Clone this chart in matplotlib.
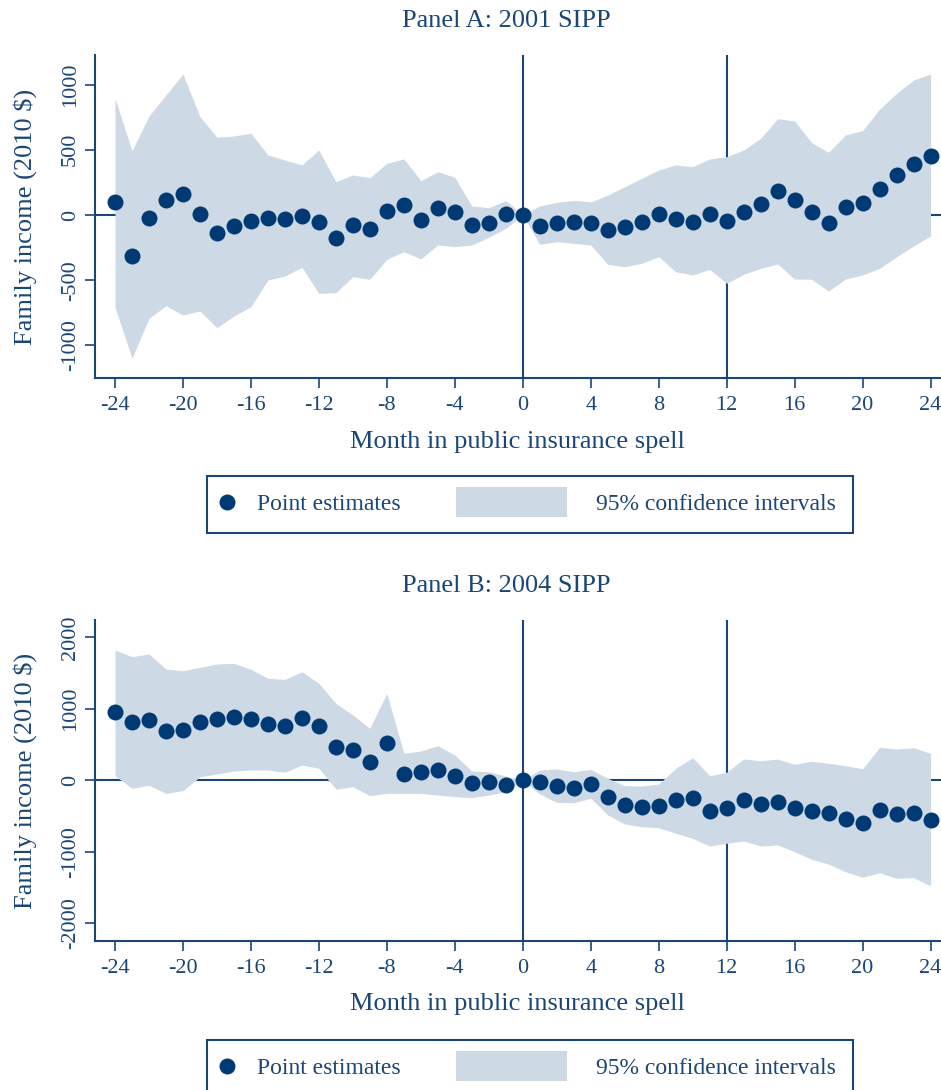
import numpy as np
import matplotlib
matplotlib.use("Agg")
import matplotlib.pyplot as plt
from matplotlib.lines import Line2D
from matplotlib.patches import Patch, Rectangle
from matplotlib.legend_handler import HandlerLine2D, HandlerPatch

plt.rcParams['font.family'] = ['Liberation Serif', 'DejaVu Serif']
plt.rcParams['axes.unicode_minus'] = False

# ---------------- data ----------------
months = list(range(-24, 25))

a_est = [100, -315, -20, 112, 159, 8, -138, -84, -43, -20, -28, -5, -51, -174, -79, -105,
         33, 74, -38, 56, 23, -79, -59, 8,
         0,
         -82, -59, -51, -64, -115, -95, -56, 8, -28, -54, 8, -43, 23, 87, 184, 115, 26,
         -59, 61, 92, 199, 304, 394, 455]
a_hi = [895, 493, 759, 920, 1081, 754, 596, 606, 627, 460, 422, 384, 498, 255, 307, 286,
        397, 430, 263, 332, 289, 69, 56, 110,
        0,
        69, 97, 112, 100, 153, 217, 281, 345, 384, 370, 430, 447, 498, 588, 739, 721, 555,
        481, 614, 647, 811, 933, 1035, 1081]
a_lo = [-708, -1099, -792, -696, -767, -736, -864, -775, -703, -499, -468, -401, -601, -596,
        -473, -493, -340, -281, -337, -230, -243, -230, -171, -102,
        0,
        -225, -205, -217, -230, -378, -396, -370, -320, -435, -460, -417, -524, -455, -409,
        -376, -491, -493, -583, -491, -460, -409, -320, -238, -161]

b_est = [951, 811, 848, 685, 704, 820, 858, 886, 862, 788, 760, 872, 755, 470, 420, 252,
         518, 93, 112, 140, 64, -38, -28, -66,
         0,
         -28, -75, -103, -47, -229, -341, -369, -355, -280, -247, -434, -383, -275, -331,
         -299, -388, -430, -462, -541, -593, -411, -471, -453, -551]
b_hi = [1823, 1730, 1767, 1557, 1533, 1581, 1627, 1637, 1553, 1427, 1413, 1519, 1357, 1077,
        914, 727, 1217, 378, 410, 484, 354, 130, 120, 60,
        0,
        144, 158, 120, 154, 28, -75, -80, -52, 168, 316, 64, 112, 298, 274, 298, 224, 266,
        238, 204, 162, 462, 438, 456, 378]
b_lo = [64, -112, -70, -182, -145, 50, 88, 130, 144, 144, 112, 214, 168, -122, -89, -215,
        -182, -182, -182, -206, -229, -243, -206, -159,
        0,
        -192, -308, -313, -252, -485, -611, -649, -663, -741, -811, -919, -881, -849, -919,
        -905, -999, -1105, -1171, -1279, -1357, -1293, -1371, -1363, -1475]

x_ticks = list(range(-24, 25, 4))
a_yticks = [-1000, -500, 0, 500, 1000]
b_yticks = [-2000, -1000, 0, 1000, 2000]
vlines = [0, 12]

titles = ["Panel A: 2001 SIPP", "Panel B: 2004 SIPP"]
xlabel = "Month in public insurance spell"
ylabel = r"Family income (2010 \$)"
leg_labels = ["Point estimates", "95% confidence intervals"]

# ---------------- style ----------------
NAVY = '#1a4676'
DOT = '#003a75'
BAND = '#cdd9e4'

W, H = 941, 1090
fig = plt.figure(figsize=(W / 100, H / 100), dpi=100)

def fx(px):
    return px / W

def fy(py):
    return 1 - py / H

axA = fig.add_axes([fx(95), fy(378), fx(941 - 95) - 0.0005, (378 - 55) / H])
axB = fig.add_axes([fx(95), fy(941), fx(941 - 95) - 0.0005, (941 - 620) / H])


class NarrowLineHandler(HandlerLine2D):
    def __init__(self, width_pts, **kw):
        super().__init__(**kw)
        self.width_pts = width_pts

    def legend_artist(self, legend, orig_handle, fontsize, handlebox):
        handlebox.width = self.width_pts
        return super().legend_artist(legend, orig_handle, fontsize, handlebox)


def band_patch(legend, orig_handle, xdescent, ydescent, width, height, fontsize):
    h = 21.5  # points
    c = (height - ydescent) / 2
    return Rectangle((-xdescent, c - h / 2), width, h)


def draw_panel(ax, est, lo, hi, yticks, ylim, title, title_y, leg_top):
    ax.axhline(0, color=NAVY, lw=1.5, zorder=1)
    for v in vlines:
        ax.axvline(v, color=NAVY, lw=1.5, zorder=1)
    ax.fill_between(months, lo, hi, color=BAND, lw=0, zorder=2)
    ax.plot(months, est, 'o', color=DOT, ms=11.5, mec='none', zorder=3)

    ax.set_xlim(-24 - 20 / 17, 24 + 10 / 17)
    ax.set_ylim(*ylim)
    ax.set_xticks(x_ticks)
    ax.set_xticklabels([str(t) for t in x_ticks])
    ax.set_yticks(yticks)
    ax.set_yticklabels([str(t) for t in yticks], rotation=90, va='center')
    for s in ['top', 'right']:
        ax.spines[s].set_visible(False)
    for s in ['left', 'bottom']:
        ax.spines[s].set_color(NAVY)
        ax.spines[s].set_linewidth(1.5)
    ax.tick_params(axis='both', colors=NAVY, length=7, width=1.2, labelsize=16,
                   labelcolor=NAVY)
    ax.tick_params(axis='x', pad=6)
    ax.tick_params(axis='y', pad=4)
    ax.set_xlabel(xlabel, fontsize=19, color=NAVY)
    ax.set_ylabel(ylabel, fontsize=19, color=NAVY)
    ax.xaxis.set_label_coords(0.5, -0.163)
    ax.yaxis.set_label_coords(-0.069, 0.5)

    fig.text(fx(506), fy(title_y + 1), title, ha='center', va='center', fontsize=19,
             color=NAVY)

    h_dot = Line2D([], [], marker='o', ls='none', color=DOT, ms=11.5, mec='none')
    h_band = Patch(facecolor=BAND, edgecolor='none')
    leg = fig.legend([h_dot, h_band], leg_labels, loc='upper center',
                     bbox_to_anchor=(fx(530), fy(leg_top)), ncol=2, fontsize=17,
                     frameon=True, fancybox=False, framealpha=1, edgecolor=NAVY,
                     borderpad=0.76, borderaxespad=0, handlelength=4.7,
                     handletextpad=1.2, columnspacing=2.35, numpoints=1,
                     handler_map={h_dot: NarrowLineHandler(3.0),
                                  h_band: HandlerPatch(patch_func=band_patch)})
    leg.get_frame().set_linewidth(1.5)
    for t in leg.get_texts():
        t.set_color(NAVY)


draw_panel(axA, a_est, a_lo, a_hi, a_yticks, (-1250, 1227), titles[0], 20, 476)
draw_panel(axB, b_est, b_lo, b_hi, b_yticks, (-2248, 2243), titles[1], 585, 1040)

fig.savefig("out.png", dpi=100)
